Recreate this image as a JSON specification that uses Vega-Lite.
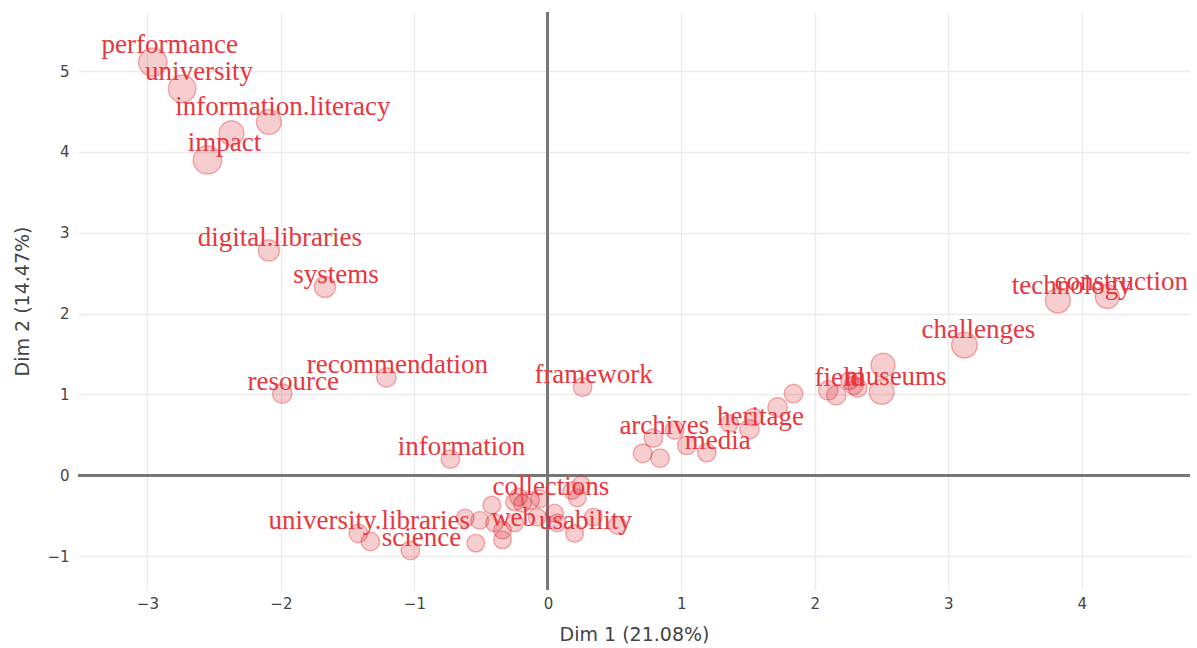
{
  "$schema": "https://vega.github.io/schema/vega-lite/v6.json",
  "width": 1112,
  "height": 578,
  "autosize": {"type": "none"},
  "padding": {"left": 78, "top": 12, "right": 7, "bottom": 58},
  "background": "white",
  "config": {
    "view": {"stroke": null},
    "axis": {
      "grid": true,
      "gridColor": "#ebebeb",
      "gridWidth": 1.3,
      "domain": false,
      "ticks": false,
      "labelFont": "DejaVu Sans",
      "labelFontSize": 15,
      "labelColor": "#444",
      "titleFont": "DejaVu Sans",
      "titleFontSize": 19,
      "titleFontWeight": "normal",
      "titleColor": "#444"
    }
  },
  "data": {
    "values": [
      {"label": "performance", "dim1": -2.96, "dim2": 5.11, "contrib": 16},
      {"label": "university", "dim1": -2.74, "dim2": 4.78, "contrib": 15.5},
      {"label": "", "dim1": -2.37, "dim2": 4.23, "contrib": 14},
      {"label": "information.literacy", "dim1": -2.09, "dim2": 4.37, "contrib": 14},
      {"label": "impact", "dim1": -2.55, "dim2": 3.9, "contrib": 16},
      {"label": "digital.libraries", "dim1": -2.09, "dim2": 2.78, "contrib": 12},
      {"label": "systems", "dim1": -1.67, "dim2": 2.33, "contrib": 12},
      {"label": "resource", "dim1": -1.99, "dim2": 1.01, "contrib": 11},
      {"label": "recommendation", "dim1": -1.21, "dim2": 1.21, "contrib": 11},
      {"label": "information", "dim1": -0.73, "dim2": 0.2, "contrib": 10.5},
      {"label": "framework", "dim1": 0.26, "dim2": 1.09, "contrib": 10.5},
      {"label": "technology", "dim1": 3.82, "dim2": 2.16, "contrib": 14},
      {"label": "construction", "dim1": 4.19, "dim2": 2.21, "contrib": 13.5},
      {"label": "challenges", "dim1": 3.12, "dim2": 1.61, "contrib": 14.5},
      {"label": "", "dim1": 2.51, "dim2": 1.36, "contrib": 13.5},
      {"label": "museums", "dim1": 2.5, "dim2": 1.03, "contrib": 14},
      {"label": "field", "dim1": 2.1, "dim2": 1.05, "contrib": 11},
      {"label": "", "dim1": 2.16, "dim2": 0.99, "contrib": 11},
      {"label": "", "dim1": 2.29, "dim2": 1.11, "contrib": 10.5},
      {"label": "", "dim1": 2.32, "dim2": 1.08, "contrib": 10.5},
      {"label": "", "dim1": 2.26, "dim2": 1.17, "contrib": 10},
      {"label": "", "dim1": 1.84, "dim2": 1.01, "contrib": 10.5},
      {"label": "", "dim1": 1.72, "dim2": 0.84, "contrib": 11},
      {"label": "heritage", "dim1": 1.51, "dim2": 0.57, "contrib": 11},
      {"label": "", "dim1": 1.54, "dim2": 0.72, "contrib": 10},
      {"label": "", "dim1": 1.36, "dim2": 0.64, "contrib": 10},
      {"label": "media", "dim1": 1.19, "dim2": 0.28, "contrib": 10.5},
      {"label": "", "dim1": 1.04, "dim2": 0.37, "contrib": 10.5},
      {"label": "", "dim1": 0.95, "dim2": 0.56, "contrib": 10.5},
      {"label": "archives", "dim1": 0.79, "dim2": 0.46, "contrib": 10.5},
      {"label": "", "dim1": 0.71, "dim2": 0.27, "contrib": 10.5},
      {"label": "", "dim1": 0.84, "dim2": 0.21, "contrib": 10.5},
      {"label": "university.libraries", "dim1": -1.42, "dim2": -0.72, "contrib": 10.5},
      {"label": "", "dim1": -1.33, "dim2": -0.82, "contrib": 10.5},
      {"label": "science", "dim1": -1.03, "dim2": -0.93, "contrib": 10.5},
      {"label": "", "dim1": -0.62, "dim2": -0.53, "contrib": 10},
      {"label": "", "dim1": -0.51, "dim2": -0.56, "contrib": 10},
      {"label": "", "dim1": -0.54, "dim2": -0.84, "contrib": 10},
      {"label": "", "dim1": -0.42, "dim2": -0.37, "contrib": 10},
      {"label": "", "dim1": -0.4, "dim2": -0.59, "contrib": 10},
      {"label": "web", "dim1": -0.34, "dim2": -0.68, "contrib": 10},
      {"label": "", "dim1": -0.34, "dim2": -0.8, "contrib": 10},
      {"label": "", "dim1": -0.25, "dim2": -0.33, "contrib": 10},
      {"label": "", "dim1": -0.22, "dim2": -0.27, "contrib": 10},
      {"label": "", "dim1": -0.19, "dim2": -0.35, "contrib": 10},
      {"label": "", "dim1": -0.13, "dim2": -0.31, "contrib": 10},
      {"label": "collections", "dim1": -0.06, "dim2": -0.29, "contrib": 10},
      {"label": "", "dim1": -0.08, "dim2": -0.52, "contrib": 10},
      {"label": "", "dim1": -0.25, "dim2": -0.59, "contrib": 10},
      {"label": "", "dim1": 0.05, "dim2": -0.47, "contrib": 10},
      {"label": "", "dim1": 0.07, "dim2": -0.59, "contrib": 10},
      {"label": "usability", "dim1": 0.2, "dim2": -0.72, "contrib": 10},
      {"label": "", "dim1": 0.22, "dim2": -0.28, "contrib": 10},
      {"label": "", "dim1": 0.18, "dim2": -0.19, "contrib": 10},
      {"label": "", "dim1": 0.25, "dim2": -0.12, "contrib": 10},
      {"label": "", "dim1": 0.34, "dim2": -0.52, "contrib": 10},
      {"label": "", "dim1": 0.52, "dim2": -0.62, "contrib": 10}
    ]
  },
  "encoding": {
    "x": {
      "field": "dim1", "type": "quantitative",
      "scale": {"domain": [-3.52, 4.81], "nice": false, "zero": false},
      "axis": {"title": "Dim 1 (21.08%)", "values": [-3, -2, -1, 0, 1, 2, 3, 4], "labelPadding": 6, "titleX": 556, "titleY": 44, "titleBaseline": "middle"}
    },
    "y": {
      "field": "dim2", "type": "quantitative",
      "scale": {"domain": [-1.42, 5.73], "nice": false, "zero": false},
      "axis": {"title": "Dim 2 (14.47%)", "values": [-1, 0, 1, 2, 3, 4, 5], "labelPadding": 9, "titleX": -56, "titleY": 289, "titleBaseline": "middle"}
    }
  },
  "layer": [
    {
      "mark": {"type": "rule", "color": "#777", "strokeWidth": 2},
      "encoding": {"x": {"datum": 0}, "y": null}
    },
    {
      "mark": {"type": "rule", "color": "#777", "strokeWidth": 2},
      "encoding": {"y": {"datum": 0}, "x": null}
    },
    {
      "mark": {"type": "circle", "fill": "#dc1e28", "fillOpacity": 0.22, "stroke": "#dc1e28", "strokeOpacity": 0.33, "strokeWidth": 1.5, "opacity": 1},
      "encoding": {
        "size": {"field": "contrib", "type": "quantitative", "legend": null,
          "scale": {"type": "pow", "exponent": 2, "domain": [0, 20], "range": [0, 1256]}}
      }
    },
    {
      "transform": [{"filter": "datum.label != '' && datum.contrib >= 15.5"}],
      "mark": {"type": "text", "font": "Liberation Serif", "fontSize": 27, "color": "#e8363c", "dx": 17, "dy": -17, "baseline": "middle", "align": "center"},
      "encoding": {"text": {"field": "label"}}
    },
    {
      "transform": [{"filter": "datum.label != '' && datum.contrib >= 13.5 && datum.contrib < 15.5"}],
      "mark": {"type": "text", "font": "Liberation Serif", "fontSize": 27, "color": "#e8363c", "dx": 14, "dy": -15, "baseline": "middle", "align": "center"},
      "encoding": {"text": {"field": "label"}}
    },
    {
      "transform": [{"filter": "datum.label != '' && datum.contrib < 13.5"}],
      "mark": {"type": "text", "font": "Liberation Serif", "fontSize": 27, "color": "#e8363c", "dx": 11, "dy": -12, "baseline": "middle", "align": "center"},
      "encoding": {"text": {"field": "label"}}
    }
  ]
}
